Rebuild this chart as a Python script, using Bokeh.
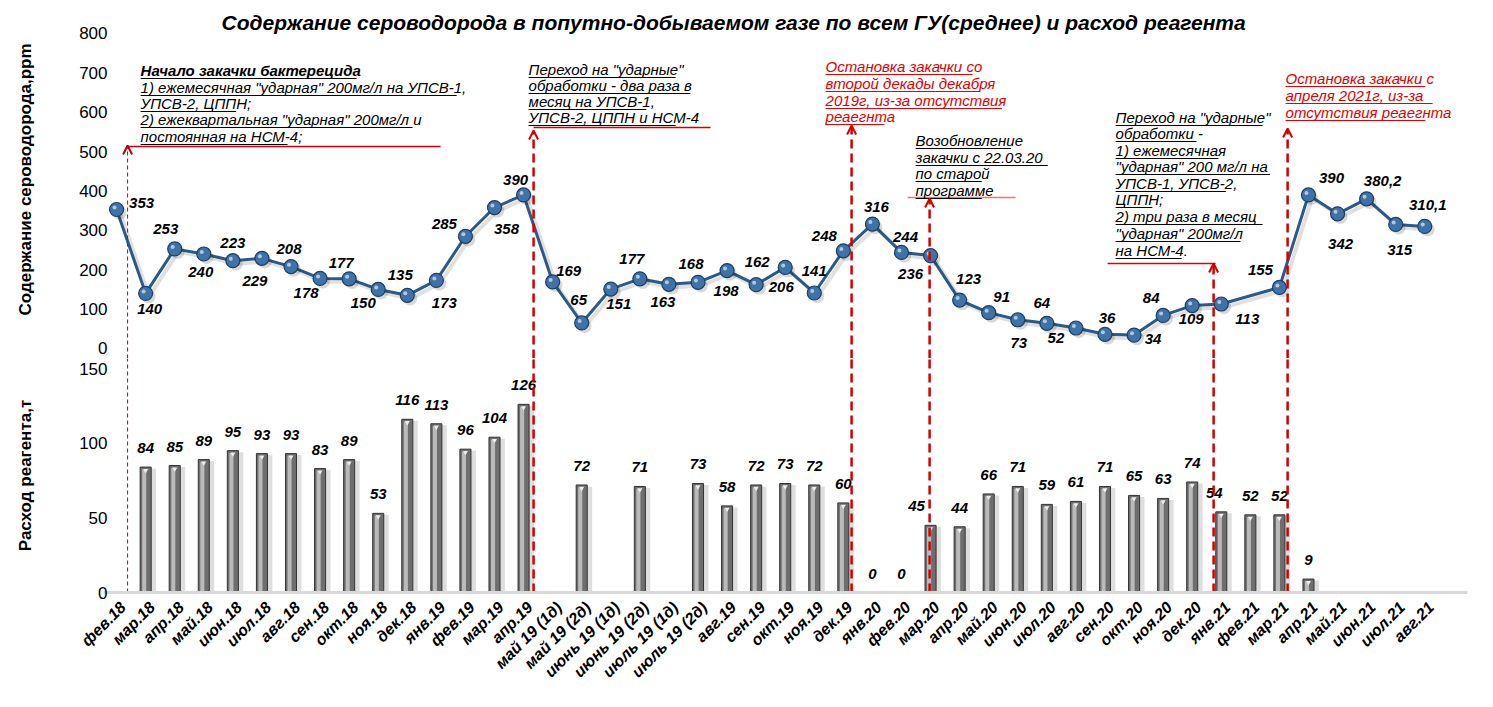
import math
from bokeh.plotting import figure
from bokeh.layouts import column
from bokeh.models import Range1d, FixedTicker, Arrow, OpenHead, Label
from bokeh.core.properties import value
from bokeh.embed import file_html
from bokeh.resources import INLINE

# --- data ---
months = ["фев.18", "мар.18", "апр.18", "май.18", "июн.18", "июл.18", "авг.18", "сен.18",
          "окт.18", "ноя.18", "дек.18", "янв.19", "фев.19", "мар.19", "апр.19",
          "май 19 (1д)", "май 19 (2д)", "июнь 19 (1д)", "июнь 19 (2д)", "июль 19 (1д)",
          "июль 19 (2д)", "авг.19", "сен.19", "окт.19", "ноя.19", "дек.19",
          "янв.20", "фев.20", "мар.20", "апр.20", "май.20", "июн.20", "июл.20", "авг.20",
          "сен.20", "окт.20", "ноя.20", "дек.20", "янв.21", "фев.21", "мар.21", "апр.21",
          "май.21", "июн.21", "июл.21", "авг.21"]

h2s = [353, 140, 253, 240, 223, 229, 208, 178, 177, 150, 135, 173, 285, 358, 390,
       169, 65, 151, 177, 163, 168, 198, 162, 206, 141, 248,
       316, 244, 236, 123, 91, 73, 64, 52, 36, 34, 84, 109, 113, None, 155, 390,
       342, 380.2, 315, 310.1]

reagent = [None, 84, 85, 89, 95, 93, 93, 83, 89, 53, 116, 113, 96, 104, 126,
           None, 72, None, 71, None, 73, 58, 72, 73, 72, 60,
           0, 0, 45, 44, 66, 71, 59, 61, 71, 65, 63, 74, 54, 52, 52, 9,
           None, None, None, None]

title_text = "Содержание сероводорода в попутно-добываемом газе по всем ГУ(среднее) и расход реагента"

# --- scale helpers (pixels per unit) ---
PX_X = 29.07          # px per category
PX_H = 0.39375        # px per ppm (upper chart)
PX_R = 224 / 150      # px per tonne (lower chart)
REF_ZERO = 348        # pixel row of 0 ppm


def ref_y(py):
    # pixel row -> ppm value of the upper chart
    return (REF_ZERO - py) / PX_H


def ref_x(px):
    # pixel column -> category index
    return (px - 116) / PX_X


FONT = "Liberation Sans"
W = 1490
x_range = Range1d(-0.45, 46.47)

# --- upper chart: H2S content ---
top = figure(width=W, height=358, x_range=x_range, y_range=Range1d(-25.4, 883.8),
             output_backend="svg", toolbar_location=None, x_axis_location=None,
             min_border_left=103, min_border_right=W - 1467, min_border_top=0,
             min_border_bottom=0)
top.outline_line_color = None
top.grid.visible = False
top.yaxis.ticker = FixedTicker(ticks=list(range(0, 801, 100)))
top.yaxis.axis_line_color = None
top.yaxis.major_tick_line_color = None
top.yaxis.minor_tick_line_color = None
top.yaxis.major_label_standoff = -10
top.yaxis.major_label_text_font = FONT
top.yaxis.major_label_text_font_size = "17px"
top.yaxis.major_label_text_color = "#000000"
top.yaxis.axis_label = "Содержание сероводорода,ppm"
top.yaxis.axis_label_text_font = FONT
top.yaxis.axis_label_text_font_size = "17px"
top.yaxis.axis_label_text_font_style = "bold"
top.yaxis.axis_label_text_color = "#000000"
top.yaxis.axis_label_standoff = 41

top.add_layout(Label(x=ref_x(733), y=ref_y(22), text=title_text, text_align="center",
                     text_baseline="middle", text_font=FONT, text_font_size="21px",
                     text_font_style="bold italic", text_color="#000000"))

# --- lower chart: reagent consumption ---
bot = figure(width=W, height=341, x_range=x_range, y_range=Range1d(0, 156.7),
             output_backend="svg", toolbar_location=None,
             min_border_left=103, min_border_right=W - 1467, min_border_top=0,
             min_border_bottom=107)
bot.outline_line_color = None
bot.grid.visible = False
bot.yaxis.ticker = FixedTicker(ticks=[0, 50, 100, 150])
bot.yaxis.axis_line_color = None
bot.yaxis.major_tick_line_color = None
bot.yaxis.minor_tick_line_color = None
bot.yaxis.major_label_standoff = -10
bot.yaxis.major_label_text_font = FONT
bot.yaxis.major_label_text_font_size = "17px"
bot.yaxis.major_label_text_color = "#000000"
bot.yaxis.axis_label = "Расход реагента,т"
bot.yaxis.axis_label_text_font = FONT
bot.yaxis.axis_label_text_font_size = "17px"
bot.yaxis.axis_label_text_font_style = "bold"
bot.yaxis.axis_label_text_color = "#000000"
bot.yaxis.axis_label_standoff = 41

# month labels sit a little right of the category centre, as in the original
tick_pos = [i + 0.22 for i in range(len(months))]
bot.xaxis.ticker = FixedTicker(ticks=tick_pos)
bot.xaxis.major_label_overrides = {t: m for t, m in zip(tick_pos, months)}
bot.xaxis.major_label_orientation = math.pi / 4
bot.xaxis.major_label_text_font = FONT
bot.xaxis.major_label_text_font_size = "16px"
bot.xaxis.major_label_text_font_style = "bold italic"
bot.xaxis.major_label_text_color = "#000000"
bot.xaxis.major_label_standoff = 6
bot.xaxis.axis_line_color = "#d9d9d9"
bot.xaxis.axis_line_width = 3
bot.xaxis.major_tick_line_color = None
bot.xaxis.minor_tick_line_color = None

# bars (cylinder-like look: shadow, body, highlight)
bx = [i for i, v in enumerate(reagent) if v is not None and v > 0]
bv = [reagent[i] for i in bx]
bot.vbar(x=[i + 0.14 for i in bx], top=[v - 1.0 for v in bv], width=0.44, bottom=0,
         fill_color="#000000", fill_alpha=0.13, line_color=None)
bot.vbar(x=bx, top=bv, width=0.38, bottom=0, fill_color="#6e6e6e",
         line_color="#333333", line_width=1)
bot.vbar(x=[i - 0.05 for i in bx], top=[v - 1.5 for v in bv], width=0.14, bottom=0,
         fill_color="#c8c8c8", fill_alpha=0.85, line_color=None)
bot.scatter(x=bx, y=[v - 2.2 for v in bv], marker="inverted_triangle", size=5,
            fill_color="#eeeeee", line_color=None)

# bar labels
lx, ly, lt = [], [], []
bar_dx = {28: -14, 38: -7}
for i, v in enumerate(reagent):
    if v is None:
        continue
    lx.append(i + bar_dx.get(i, 0) / PX_X)
    ly.append(v + 19 / PX_R)
    lt.append(str(v))
bot.text(x=lx, y=ly, text=lt, text_align="center", text_baseline="middle",
         text_font=value(FONT), text_font_size="15px", text_font_style="bold italic",
         text_color="#000000")

# H2S line with markers
hx = [i for i, v in enumerate(h2s) if v is not None]
hv = [h2s[i] for i in hx]
top.line(x=[i + 0.12 for i in hx], y=[v - 8 for v in hv], line_color="#000000",
         line_alpha=0.12, line_width=4)
top.line(x=hx, y=hv, line_color="#2c5a86", line_width=3)
top.scatter(x=[i + 0.1 for i in hx], y=[v - 8 for v in hv], size=14, fill_color="#000000",
            fill_alpha=0.15, line_color=None)
top.scatter(x=hx, y=hv, size=14, fill_color="#3f73a8", line_color="#1d3f63", line_width=1.2)
top.scatter(x=[i - 0.07 for i in hx], y=[v + 5 for v in hv], size=4, fill_color="#ffffff",
            fill_alpha=0.6, line_color=None)

# label placement (px right, px down) for each point
h_off = [(25, -7), (4, 16), (-9, -20), (-3, 18), (0, -18), (-7, 23), (-2, -18), (-14, 15),
         (-8, -16), (-15, 14), (-7, -20), (8, 23), (-21, -12), (12, 21), (-8, -15),
         (16, -11), (-3, -23), (8, 15), (-8, -20), (-6, 18), (-7, -18), (-1, 20), (1, -23),
         (-4, 20), (0, -22), (-19, -15), (4, -17), (4, -15), (-20, 18), (9, -21), (13, -16),
         (1, 23), (-5, -20), (-20, 10), (2, -16), (19, 4), (-12, -17), (-1, 13), (26, 15),
         None, (-19, -17), (23, -17), (3, 30), (16, -18), (4, 26), (3, -21)]
tx, ty, tt = [], [], []
for i, v in enumerate(h2s):
    if v is None:
        continue
    dx, dy = h_off[i]
    tx.append(i + dx / PX_X)
    ty.append(v - dy / PX_H)
    tt.append(f"{v:g}".replace(".", ","))
top.text(x=tx, y=ty, text=tt, text_align="center", text_baseline="middle",
         text_font=value(FONT), text_font_size="15px", text_font_style="bold italic",
         text_color="#000000")

# event markers: dashed verticals with arrows
RED = "#d40000"
events = [(127, 145, 1, "4 3", "#c00000"), (533, 130, 2.5, "9 5", RED),
          (851, 125, 2.5, "9 5", RED), (929, 198, 2.5, "9 5", RED),
          (1213, 263, 2.5, "9 5", RED), (1287, 128, 2.5, "9 5", RED)]
for px, tip, lw, dash, col in events:
    xe = ref_x(px)
    bot.segment(x0=[xe], y0=[0], x1=[xe], y1=[156.7], line_color=col, line_width=lw,
                line_dash=dash)
    top.add_layout(Arrow(x_start=xe, y_start=-25.4, x_end=xe, y_end=ref_y(tip),
                         line_color=col, line_width=lw, line_dash=dash,
                         end=OpenHead(size=9, line_color=col, line_width=2)))

# horizontal pointer lines under notes
for x0, x1, py, col in [(127, 440, 146, "#d00000"), (533, 710, 127, "#d00000"),
                        (907, 1015, 197, "#e87878"), (1107, 1215, 263, "#e00000")]:
    top.segment(x0=[ref_x(x0)], y0=[ref_y(py)], x1=[ref_x(x1)], y1=[ref_y(py)],
                line_color=col, line_width=1.5)


def note(px, rows, lines, color, bold_first=False):
    for k, (py, s) in enumerate(zip(rows, lines)):
        style = "bold italic" if (bold_first and k == 0) else "italic"
        xs = ref_x(px)
        ys = ref_y(py)
        top.text(x=[xs], y=[ys], text=[s], text_align="left", text_baseline="middle",
                 text_font=value(FONT), text_font_size="15px", text_font_style=style,
                 text_color=color)
        w = len(s) * (8.0 if k == 0 and bold_first else 7.35)
        top.segment(x0=[xs], y0=[ref_y(py + 8)], x1=[ref_x(px + w)], y1=[ref_y(py + 8)],
                    line_color=color, line_width=1)


note(140, [70, 87, 103, 119, 136],
     ["Начало закачки  бактерецида",
      "1) ежемесячная \"ударная\" 200мг/л на УПСВ-1,",
      "УПСВ-2, ЦППН;",
      "2) ежеквартальная \"ударная\" 200мг/л и",
      "постоянная на НСМ-4;"], "#000000", bold_first=True)
note(528, [69, 85, 101, 117],
     ["Переход на \"ударные\"", "обработки - два раза в", "месяц на УПСВ-1,",
      "УПСВ-2, ЦППН и НСМ-4"], "#000000")
note(825, [66, 83, 100, 116],
     ["Остановка закачки со", "второй декады декабря", "2019г,  из-за отсутствия",
      "реаегнта"], "#e00000")
note(915, [140, 157, 173, 190],
     ["Возобновление", "закачки с 22.03.20", "по старой", "программе"], "#000000")
note(1115, [117, 133, 150, 166, 183, 199, 216, 233, 250],
     ["Переход на \"ударные\"", "обработки -", "1) ежемесячная",
      "\"ударная\" 200 мг/л на", "УПСВ-1, УПСВ-2,", "ЦППН;", "2) три раза  в месяц",
      "\"ударная\" 200мг/л", "на НСМ-4."], "#000000")
note(1285, [78, 95, 112],
     ["Остановка закачки с", "апреля 2021г,  из-за", "отсутствия реаегнта"], "#e00000")

layout = column(top, bot, spacing=0)
open("out.html", "w").write(file_html(layout, INLINE))
